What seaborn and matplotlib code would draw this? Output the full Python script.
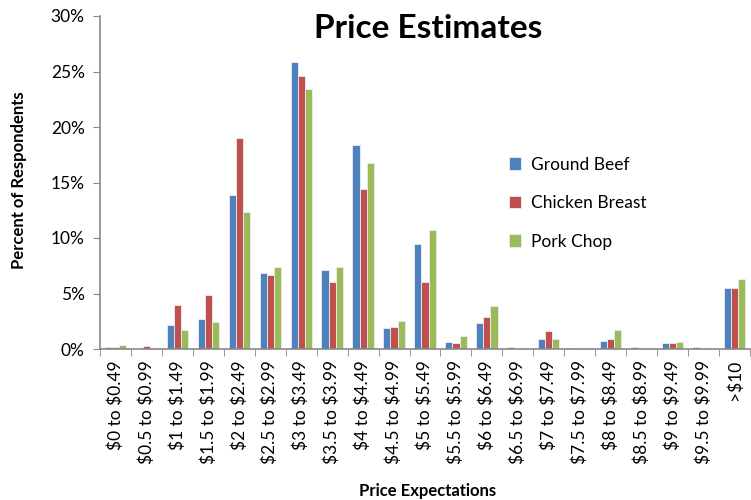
import matplotlib
matplotlib.use("Agg")
import matplotlib.pyplot as plt
import seaborn as sns
import pandas as pd
import numpy as np
from matplotlib.ticker import FuncFormatter, FixedLocator

categories = ["$0 to $0.49", "$0.5 to $0.99", "$1 to $1.49", "$1.5 to $1.99", "$2 to $2.49",
              "$2.5 to $2.99", "$3 to $3.49", "$3.5 to $3.99", "$4 to $4.49", "$4.5 to $4.99",
              "$5 to $5.49", "$5.5 to $5.99", "$6 to $6.49", "$6.5 to $6.99", "$7 to $7.49",
              "$7.5 to $7.99", "$8 to $8.49", "$8.5 to $8.99", "$9 to $9.49", "$9.5 to $9.99", ">$10"]
ground_beef = [0.2, 0.1, 2.2, 2.7, 13.9, 6.85, 25.9, 7.1, 18.4, 1.9, 9.5, 0.65, 2.3, 0.2, 0.9, 0.1, 0.75, 0.2, 0.5, 0.2, 5.5]
chicken_breast = [0.2, 0.25, 3.95, 4.9, 19.0, 6.7, 24.6, 6.0, 14.45, 2.0, 6.0, 0.5, 2.85, 0.0, 1.6, 0.0, 0.9, 0.0, 0.5, 0.0, 5.5]
pork_chop = [0.35, 0.1, 1.75, 2.45, 12.35, 7.4, 23.4, 7.4, 16.75, 2.55, 10.7, 1.2, 3.85, 0.0, 0.9, 0.0, 1.75, 0.0, 0.65, 0.0, 6.3]
series_names = ["Ground Beef", "Chicken Breast", "Pork Chop"]
colors = ["#4F81BD", "#C0504D", "#9BBB59"]

rows = []
for name, vals in zip(series_names, [ground_beef, chicken_breast, pork_chop]):
    for c, v in zip(categories, vals):
        rows.append({"cat": c, "series": name, "val": v})
df = pd.DataFrame(rows)

sns.set_style("white")
plt.rcParams["font.family"] = ["Lato", "DejaVu Sans"]
plt.rcParams["text.parse_math"] = False
plt.rcParams["text.color"] = "black"
plt.rcParams["xtick.color"] = "black"
plt.rcParams["ytick.color"] = "black"

fig = plt.figure(figsize=(7.51, 5.0), dpi=100)
ax = fig.add_axes([100/751, 1-349/500, 650/751, 333/500])
sns.barplot(data=df, x="cat", y="val", hue="series", order=categories,
            hue_order=series_names, palette=colors, width=0.69, ax=ax,
            saturation=1, edgecolor="#e8eef6", linewidth=0.6, errorbar=None)

ax.set_xlim(-0.5, len(categories) - 0.5)
ax.set_ylim(0, 30)
ax.set_yticks(range(0, 31, 5))
ax.yaxis.set_major_formatter(FuncFormatter(lambda v, p: f"{int(v)}%"))
ax.tick_params(axis="y", labelsize=12.5, length=5, direction="out", color="#888888",
               labelcolor="black", left=True, pad=6)
ax.set_xticks(range(len(categories)))
ax.set_xticklabels(categories, rotation=90, fontsize=12.5)
ax.tick_params(axis="x", which="major", length=0, pad=8, labelcolor="black")
ax.xaxis.set_minor_locator(FixedLocator(np.arange(-0.5, len(categories), 1.0)))
ax.tick_params(axis="x", which="minor", length=5, direction="out", color="#888888", bottom=True)

for s in ["top", "right"]:
    ax.spines[s].set_visible(False)
for s in ["left", "bottom"]:
    ax.spines[s].set_color("#888888")
    ax.spines[s].set_linewidth(1.2)

ax.set_xlabel("")
ax.set_ylabel("")
fig.text(428/751, 1-491/500, "Price Expectations", ha="center", va="center",
         fontsize=12, fontweight="bold")
fig.text(19/751, 1-180/500, "Percent of Respondents", ha="center", va="center",
         rotation=90, fontsize=12, fontweight="bold")
fig.text(428/751, 1-28/500, "Price Estimates", ha="center", va="center",
         fontsize=24, fontweight="bold")

leg = ax.legend(loc="upper left", bbox_to_anchor=(0.605, 0.625), frameon=False,
                fontsize=12.5, labelspacing=1.3, handlelength=0.7, handleheight=0.7,
                handletextpad=0.6)

fig.savefig("out.png", dpi=100)
